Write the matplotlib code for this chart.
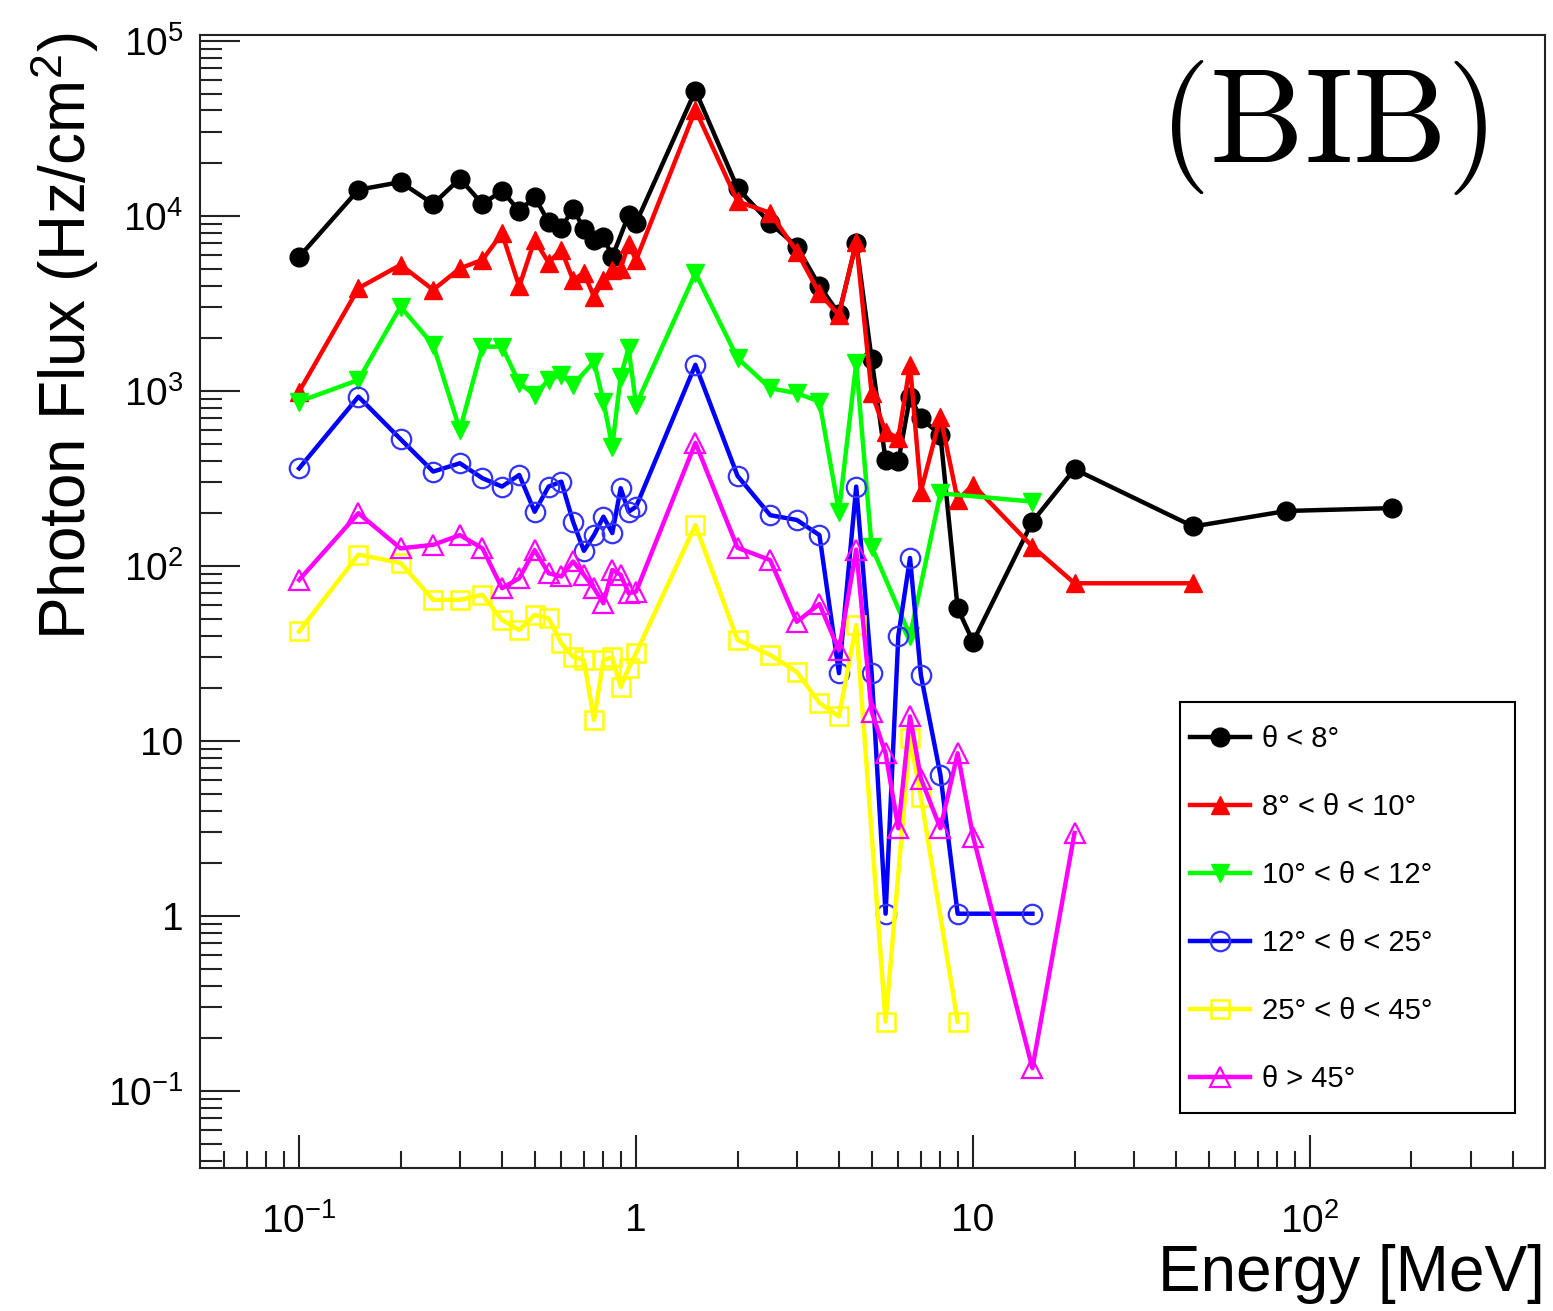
import math
import matplotlib
matplotlib.use("Agg")
import matplotlib.pyplot as plt
from matplotlib.patches import Rectangle
from matplotlib.ticker import FuncFormatter, NullFormatter, FixedLocator

plt.rcParams['font.family'] = ['Liberation Sans', 'DejaVu Sans']
plt.rcParams['mathtext.fontset'] = 'custom'
plt.rcParams['mathtext.rm'] = 'Liberation Sans'
plt.rcParams['mathtext.it'] = 'Liberation Sans:italic'
plt.rcParams['mathtext.default'] = 'regular'

# ---------------- data ----------------
E_black = [0.1, 0.15, 0.2, 0.25, 0.3, 0.35, 0.4, 0.45, 0.5, 0.55, 0.6, 0.65, 0.7, 0.75, 0.8, 0.85, 0.95, 1.0,
           1.5, 2, 2.5, 3, 3.5, 4, 4.5, 5, 5.5, 6, 6.5, 7, 8, 9, 10, 15, 20, 45, 85, 175]
F_black = [5830, 14100, 15600, 11700, 16300, 11700, 13900, 10700, 12800, 9240, 8540, 11000, 8430, 7300, 7590, 5830, 10100, 9120,
           52000, 14400, 9080, 6680, 3980, 2760, 7030, 1520, 403, 395, 927, 698, 561, 57.3, 36.9, 179, 357, 168, 206, 214]

E_red = [0.1, 0.15, 0.2, 0.25, 0.3, 0.35, 0.4, 0.45, 0.5, 0.55, 0.6, 0.65, 0.7, 0.75, 0.8, 0.85, 0.9, 0.95, 1.0,
         1.5, 2, 2.5, 3, 3.5, 4, 4.5, 5, 5.5, 6, 6.5, 7, 8, 9, 10, 15, 20, 45]
F_red = [990, 3860, 5250, 3780, 5010, 5610, 7950, 3950, 7290, 5410, 6400, 4310, 4710, 3460, 4300, 4900, 5000, 6900, 5600,
         40400, 12100, 10400, 6250, 3610, 2720, 7130, 970, 585, 537, 1410, 266, 713, 238, 290, 129, 79.6, 79.6]

E_green = [0.1, 0.15, 0.2, 0.25, 0.3, 0.35, 0.4, 0.45, 0.5, 0.55, 0.6, 0.65, 0.75, 0.8, 0.85, 0.9, 0.95, 1.0,
           1.5, 2, 2.5, 3, 3.5, 4, 4.5, 5, 6.5, 8, 15]
F_green = [869, 1155, 3030, 1830, 598, 1790, 1790, 1110, 948, 1155, 1233, 1081, 1470, 869, 481, 1208, 1753, 832,
           4710, 1540, 1036, 970, 869, 204, 1440, 129, 40, 260, 233]

E_blue = [0.1, 0.15, 0.2, 0.25, 0.3, 0.35, 0.4, 0.45, 0.5, 0.55, 0.6, 0.65, 0.7, 0.75, 0.8, 0.85, 0.9, 0.95, 1.0,
          1.5, 2, 2.5, 3, 3.5, 4, 4.5, 5, 5.5, 6, 6.5, 7, 8, 9, 15]
F_blue = [361, 927, 530, 346, 386, 317, 284, 331, 204, 284, 303, 179, 122, 150, 191, 154, 278, 204, 218,
          1410, 327, 195, 183, 150, 24.4, 284, 24.4, 1.03, 39.8, 111, 23.8, 6.4, 1.03, 1.03]

E_yellow = [0.1, 0.15, 0.2, 0.25, 0.3, 0.35, 0.4, 0.45, 0.5, 0.55, 0.6, 0.65, 0.7, 0.75, 0.8, 0.85, 0.9, 0.95, 1.0,
            1.5, 2, 2.5, 3, 3.5, 4, 4.5, 5.5, 6.5, 7, 9]
F_yellow = [42.2, 116, 104, 64, 64, 68.3, 49.1, 43, 52.5, 50.2, 36.1, 30.3, 29, 13.2, 29, 30, 20.4, 26, 31.7,
            171, 37.8, 31, 24.8, 16.5, 13.8, 46, 0.249, 10.4, 4.8, 0.249]

E_magenta = [0.1, 0.15, 0.2, 0.25, 0.3, 0.35, 0.4, 0.45, 0.5, 0.55, 0.6, 0.65, 0.7, 0.75, 0.8, 0.85, 0.9, 0.95, 1.0,
             1.5, 2, 2.5, 3, 3.5, 4, 4.5, 5, 5.5, 6, 6.5, 7, 8, 9, 10, 15, 20]
F_magenta = [83.2, 200, 126, 132, 150, 126, 74.6, 85, 123, 90.8, 87, 106, 89, 74.6, 61.2, 94.8, 89, 69.8, 71.3,
             505, 127, 108, 47.9, 60.6, 33, 124, 14.7, 8.5, 3.17, 13.8, 6.1, 3.17, 8.5, 2.84, 0.135, 2.98]

labels = ["θ < 8°", "8° < θ < 10°", "10° < θ < 12°", "12° < θ < 25°", "25° < θ < 45°", "θ > 45°"]

x_decades = [0.1, 1, 10, 100]
y_decades = [0.1, 1, 10, 100, 1000, 10000, 100000]

# ---------------- figure ----------------
W, H = 1553, 1311
fig = plt.figure(figsize=(W / 100, H / 100), dpi=100)
ax = fig.add_axes([200 / W, 1 - 1168 / H, 1345 / W, 1133 / H])

series = [
    (E_black, F_black, dict(color='black', marker='o', ms=13.5, mfc='black', mec='black')),
    (E_red, F_red, dict(color='#ff0000', marker='^', ms=13, mfc='#ff0000', mec='#ff0000')),
    (E_green, F_green, dict(color='#00ff00', marker='v', ms=13, mfc='#00ff00', mec='#00ff00')),
    (E_blue, F_blue, dict(color='#0000ff', marker='o', ms=14, mfc='none', mec='#3333ff', mew=1.6)),
    (E_yellow, F_yellow, dict(color='#ffff00', marker='s', ms=13, mfc='none', mec='#ffff00', mew=1.8)),
    (E_magenta, F_magenta, dict(color='#ff00ff', marker='^', ms=14, mfc='none', mec='#ff00ff', mew=1.6)),
]
for (x, y, st), lab in zip(series, labels):
    ax.plot(x, y, lw=3.2, label=lab, **st)

ax.set_xscale('log')
ax.set_yscale('log')
xlim = (0.0508, 498)
ylim = (0.0363, 1.08e5)
ax.set_xlim(*xlim)
ax.set_ylim(*ylim)


def fmt(v, pos):
    if abs(v - 1) < 1e-9:
        return '1'
    if abs(v - 10) < 1e-9:
        return '10'
    e = int(round(math.log10(v)))
    return r'$10^{%d}$' % e


def minors(lo, hi):
    out = []
    for k in range(-3, 7):
        for s in range(2, 10):
            v = s * 10.0 ** k
            if lo <= v <= hi:
                out.append(v)
    return out


ax.xaxis.set_major_locator(FixedLocator(x_decades))
ax.yaxis.set_major_locator(FixedLocator(y_decades))
ax.xaxis.set_minor_locator(FixedLocator(minors(*xlim)))
ax.yaxis.set_minor_locator(FixedLocator(minors(*ylim)))
ax.xaxis.set_major_formatter(FuncFormatter(fmt))
ax.yaxis.set_major_formatter(FuncFormatter(fmt))
ax.xaxis.set_minor_formatter(NullFormatter())
ax.yaxis.set_minor_formatter(NullFormatter())

tc = '#222222'
ax.tick_params(axis='both', which='both', direction='in', top=False, right=False, colors=tc, width=1.5,
               labelsize=28, labelcolor='black')
ax.tick_params(axis='y', which='major', length=29, pad=12)
ax.tick_params(axis='y', which='minor', length=16)
ax.tick_params(axis='x', which='major', length=24, pad=25)
ax.tick_params(axis='x', which='minor', length=12)
for s in ax.spines.values():
    s.set_color(tc)
    s.set_linewidth(1.5)

# axis titles (ROOT style: placed at the ends of the axes)
fig.text(65 / W, 1 - 33 / H, 'Photon Flux (Hz/cm$^{2}$)', rotation=90, ha='center', va='top', fontsize=46)
fig.text(1545 / W, 1 - 1274 / H, 'Energy [MeV]', ha='right', va='center', fontsize=46)

# (BIB) label
fig.text(1323 / W, 1 - 128 / H, r'$\mathrm{(BIB)}$', math_fontfamily='cm', ha='center', va='center', fontsize=96)

# legend: entries without frame, frame drawn as its own box
leg = ax.legend(loc='upper left', bbox_to_anchor=(1190 / W, 1 - 725 / H),
                bbox_transform=fig.transFigure, fontsize=21, frameon=False,
                borderpad=0, labelspacing=1.37, handlelength=2.05,
                handletextpad=0.41, borderaxespad=0)
ax.add_patch(Rectangle((1180 / W, 1 - 1113 / H), 335 / W, 411 / H, transform=fig.transFigure,
                       fill=False, edgecolor='black', linewidth=1.5, zorder=6, clip_on=False))

fig.savefig('out.png', dpi=100)
